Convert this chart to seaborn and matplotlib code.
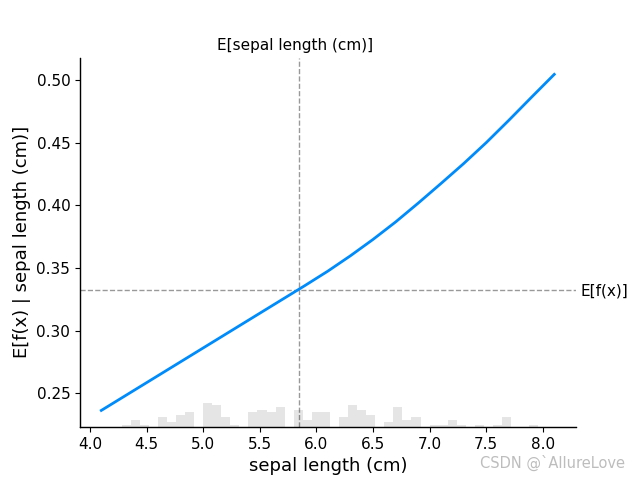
import matplotlib
matplotlib.use("Agg")
import matplotlib.pyplot as plt
import seaborn as sns
import numpy as np
import pandas as pd

# partial dependence curve
pd_x = [4.1, 4.3, 4.5, 4.7, 4.9, 5.1, 5.3, 5.5, 5.7, 5.9, 6.1,
        6.3, 6.5, 6.7, 6.9, 7.1, 7.3, 7.5, 7.7, 7.9, 8.1]
pd_y = [0.2362, 0.2473, 0.2584, 0.2695, 0.2806, 0.2917, 0.3028, 0.3139, 0.3250, 0.3361, 0.3475,
        0.3598, 0.3729, 0.3869, 0.4020, 0.4176, 0.4335, 0.4503, 0.4682, 0.4866, 0.5048]

# sepal length sample values and their counts (histogram)
sl_values = [4.3, 4.4, 4.5, 4.6, 4.7, 4.8, 4.9, 5.0, 5.1, 5.2, 5.3, 5.4, 5.5, 5.6, 5.7, 5.8,
             5.9, 6.0, 6.1, 6.2, 6.3, 6.4, 6.5, 6.6, 6.7, 6.8, 6.9, 7.0, 7.1, 7.2, 7.3, 7.4,
             7.6, 7.7, 7.9]
sl_counts = [1, 3, 1, 4, 2, 5, 6, 10, 9, 4, 1, 6, 7, 6, 8, 7,
             3, 6, 6, 4, 9, 7, 5, 2, 8, 3, 4, 1, 1, 3, 1, 1,
             1, 4, 1]
hist_range = (4.119, 8.119)
n_bins = 50

mean_x = 5.843
base_value = 0.3328
feature = "sepal length (cm)"

line_df = pd.DataFrame({"x": pd_x, "y": pd_y})
hist_df = pd.DataFrame({"v": sl_values, "w": sl_counts})

fig, ax1 = plt.subplots(figsize=(6.4, 4.8), dpi=100)

ax2 = ax1.twinx()
sns.histplot(data=hist_df, x="v", weights="w", bins=n_bins, binrange=hist_range,
             stat="count", color="black", alpha=0.1, linewidth=0, ax=ax2)
ax2.set_ylim(0, sum(sl_counts))
ax2.set_yticks([])
ax2.set_ylabel("")
ax2.set_xlabel("")

sns.lineplot(data=line_df, x="x", y="y", color="#008bfb", linewidth=2, ax=ax1, zorder=3)

ax1.set_xlim(3.912, 8.292)
ax1.set_ylim(0.2228, 0.5182)
ax1.axvline(mean_x, color="#999999", linestyle="--", linewidth=1, zorder=-1)
ax1.axhline(base_value, color="#999999", linestyle="--", linewidth=1, zorder=-1)

ax1.set_xlabel(feature, fontsize=13)
ax1.set_ylabel("E[f(x) | " + feature + "]", fontsize=13)
ax1.tick_params(labelsize=11)

ax3 = ax1.twinx()
ax3.set_ylim(ax1.get_ylim())
ax3.set_yticks([base_value])
ax3.set_yticklabels(["E[f(x)]"], fontsize=11)
ax3.tick_params(length=0)

ax4 = ax1.twiny()
ax4.set_xlim(ax1.get_xlim())
ax4.set_xticks([mean_x - 0.03])
ax4.set_xticklabels(["E[" + feature + "]"], fontsize=11)
ax4.tick_params(length=0)

for a in (ax1, ax2, ax3, ax4):
    a.spines["top"].set_visible(False)
    a.spines["right"].set_visible(False)

fig.text(0.976, 0.018, "CSDN @`AllureLove", ha="right", va="bottom",
         fontsize=10.5, color="#bdbdbd")

fig.savefig("out.png", dpi=100)
